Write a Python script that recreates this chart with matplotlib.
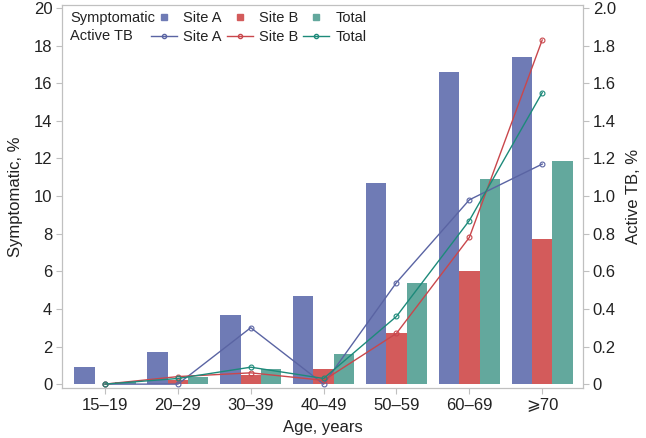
import matplotlib

matplotlib.use("Agg")
import matplotlib.pyplot as plt  # noqa: E402
import numpy as np  # noqa: E402
from matplotlib.lines import Line2D  # noqa: E402
from matplotlib.ticker import FuncFormatter  # noqa: E402

plt.rcParams["font.family"] = ["Liberation Sans", "DejaVu Sans"]

# data
age_groups = ["15\u201319", "20\u201329", "30\u201339", "40\u201349", "50\u201359", "60\u201369", "\u2a7e70"]
symp_site_a = [0.9, 1.7, 3.65, 4.7, 10.7, 16.6, 17.4]
symp_site_b = [0.0, 0.2, 0.5, 0.8, 2.7, 6.0, 7.7]
symp_total = [0.1, 0.4, 0.8, 1.6, 5.4, 10.9, 11.85]
tb_site_a = [0.0, 0.0, 0.30, 0.0, 0.54, 0.98, 1.17]
tb_site_b = [0.0, 0.04, 0.06, 0.02, 0.27, 0.78, 1.83]
tb_total = [0.0, 0.03, 0.09, 0.03, 0.36, 0.87, 1.55]

bar_a, bar_b, bar_t = "#6f7bb5", "#d35b5b", "#63a89d"
line_a, line_b, line_t = "#5a64a3", "#c9474c", "#1d8a7a"
grey = "#c0c0c0"
txt = "#222222"

W, H = 646, 438
fig = plt.figure(figsize=(W / 100, H / 100), dpi=100)
ax = fig.add_axes([0.096, 0.114, 0.8065, 0.8746])
ax2 = ax.twinx()
ax.set_zorder(1)
ax2.set_zorder(2)
ax2.patch.set_visible(False)

x = np.arange(len(age_groups))
w = 0.28
ax.bar(x - w, symp_site_a, w, color=bar_a)
ax.bar(x, symp_site_b, w, color=bar_b)
ax.bar(x + w, symp_total, w, color=bar_t)

for vals, col in [(tb_site_a, line_a), (tb_site_b, line_b), (tb_total, line_t)]:
    ax2.plot(x, vals, color=col, lw=1.0, marker="o", ms=3.5,
             mfc="none", mec=col, mew=0.8)

ax.set_xlim(-0.59, 6.56)
ax.set_ylim(-0.21, 20.16)
ax2.set_ylim(-0.021, 2.016)
ax.set_xticks(x)
ax.set_xticklabels(age_groups)
ax.set_yticks(np.arange(0, 21, 2))
ax2.set_yticks(np.arange(0, 2.01, 0.2))
ax2.yaxis.set_major_formatter(FuncFormatter(lambda v, p: "0" if abs(v) < 1e-9 else f"{v:.1f}"))

for a in (ax, ax2):
    for s in a.spines.values():
        s.set_color(grey)
        s.set_linewidth(0.8)
    a.tick_params(colors=grey, labelcolor=txt, labelsize=12, length=4, width=0.8, pad=3)

ax.set_xlabel("Age, years", fontsize=12, color=txt, labelpad=5)
ax.set_ylabel("Symptomatic, %", fontsize=12, color=txt, labelpad=8)
ax2.set_ylabel("Active TB, %", fontsize=12, color=txt, labelpad=7)

# legend: row titles as plain text, marks in a 3-column legend
fig.text(70 / W, 1 - 18 / H, "Symptomatic", fontsize=10.5, color=txt, va="center", ha="left")
fig.text(70 / W, 1 - 36 / H, "Active TB", fontsize=10.5, color=txt, va="center", ha="left")
handles = [
    Line2D([], [], ls="none", marker="s", ms=4.5, color=bar_a),
    Line2D([], [], color=line_a, lw=1, marker="o", ms=3, mfc="none"),
    Line2D([], [], ls="none", marker="s", ms=4.5, color=bar_b),
    Line2D([], [], color=line_b, lw=1, marker="o", ms=3, mfc="none"),
    Line2D([], [], ls="none", marker="s", ms=4.5, color=bar_t),
    Line2D([], [], color=line_t, lw=1, marker="o", ms=3, mfc="none"),
]
labels = ["Site A", "Site A", "Site B", "Site B", "Total", "Total"]
leg = ax2.legend(handles, labels, ncol=3, loc="upper left",
                 bbox_to_anchor=(151 / W, 1 - 11.5 / H), bbox_transform=fig.transFigure,
                 frameon=False, fontsize=10.5, handlelength=1.8, handletextpad=0.4,
                 columnspacing=0.35, labelspacing=0.3, borderpad=0, borderaxespad=0)
for t in leg.get_texts():
    t.set_color(txt)

fig.savefig("out.png", dpi=100)
